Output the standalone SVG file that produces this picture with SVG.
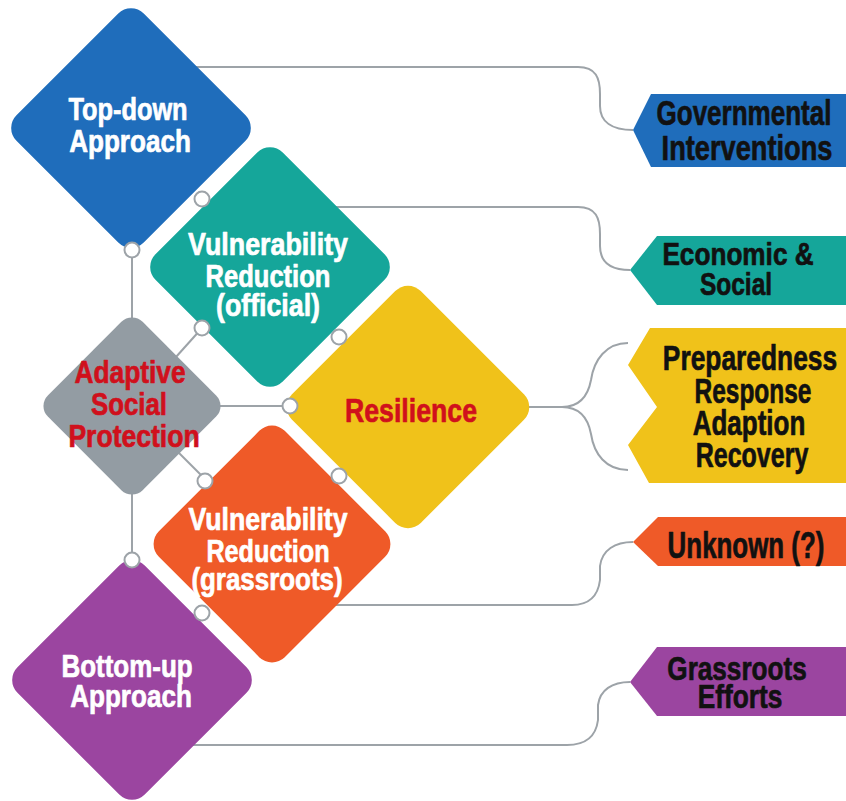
<svg xmlns="http://www.w3.org/2000/svg" width="846" height="801" viewBox="0 0 846 801">
<style>
.bg{fill:#ffffff}
.conn{fill:none;stroke:#9da3a8;stroke-width:2}
.dot{fill:#ffffff;stroke:#9da3a8;stroke-width:2}
.t{font-family:"Liberation Sans",Arial,sans-serif;font-weight:bold;text-anchor:middle;stroke-width:0.7px;stroke-linejoin:round}
.w{fill:#ffffff;stroke:#ffffff;font-size:31px}
.r{fill:#d0101c;stroke:#d0101c;font-size:31px}
.k{fill:#111111;stroke:#111111;font-size:36px}
.blue{fill:#1f6dbb}
.teal{fill:#15a69a}
.gray{fill:#939ca3}
.yellow{fill:#f0c21a}
.orange{fill:#ef5a28}
.purple{fill:#9b45a0}
</style>
<rect class="bg" x="0" y="0" width="846" height="801"/>
<g id="connectors">
<line class="conn" x1="132" y1="250" x2="132" y2="560"/>
<line class="conn" x1="132" y1="406" x2="202" y2="328"/>
<line class="conn" x1="132" y1="406" x2="290" y2="406"/>
<line class="conn" x1="132" y1="406" x2="206" y2="480"/>
<path class="conn" d="M192 67 H578 C596 67 600 78 600 94 V106 C600 122 612 130 633 130"/>
<path class="conn" d="M330 207 H578 C596 207 600 218 600 234 V246 C600 262 610 270 630 270"/>
<path class="conn" d="M528 407 H562 C580 407 588 396 591 380 C594 360 606 343 628 343"/>
<path class="conn" d="M562 407 C580 407 588 418 591 434 C594 454 606 470 628 470"/>
<path class="conn" d="M331 605 H572 C590 605 598 596 600 580 V566 C602 550 615 542 633 542"/>
<path class="conn" d="M187 745 H567 C586 745 596 736 598 720 V705 C600 690 612 682 630 682"/>
</g>
<g id="node-topdown">
<rect class="blue" x="-90" y="-90" width="180" height="180" rx="18" transform="translate(131,128) rotate(45)"/>
<text class="t w" transform="translate(128,120) scale(0.8,1)" textLength="149" lengthAdjust="spacingAndGlyphs">Top-down</text>
<text class="t w" transform="translate(130,152) scale(0.8,1)" textLength="152" lengthAdjust="spacingAndGlyphs">Approach</text>
</g>
<g id="node-vr-official">
<rect class="teal" x="-90" y="-90" width="180" height="180" rx="18" transform="translate(270,267) rotate(45)"/>
<text class="t w" transform="translate(268,255) scale(0.8,1)" textLength="200" lengthAdjust="spacingAndGlyphs">Vulnerability</text>
<text class="t w" transform="translate(268,287) scale(0.8,1)" textLength="156" lengthAdjust="spacingAndGlyphs">Reduction</text>
<text class="t w" transform="translate(268,316) scale(0.8,1)" textLength="130" lengthAdjust="spacingAndGlyphs">(official)</text>
</g>
<g id="node-asp">
<rect class="gray" x="-67" y="-67" width="134" height="134" rx="15" transform="translate(132,406) rotate(45)"/>
<text class="t r" transform="translate(130,383) scale(0.8,1)" textLength="139" lengthAdjust="spacingAndGlyphs">Adaptive</text>
<text class="t r" transform="translate(129,415) scale(0.8,1)" textLength="95" lengthAdjust="spacingAndGlyphs">Social</text>
<text class="t r" transform="translate(134,447) scale(0.8,1)" textLength="164" lengthAdjust="spacingAndGlyphs">Protection</text>
</g>
<g id="node-resilience">
<rect class="yellow" x="-91" y="-91" width="182" height="182" rx="18" transform="translate(408,407) rotate(45)"/>
<text class="t r" transform="translate(411,422) scale(0.8,1)" style="font-size:34px" textLength="165" lengthAdjust="spacingAndGlyphs">Resilience</text>
</g>
<g id="node-vr-grassroots">
<rect class="orange" x="-89" y="-89" width="178" height="178" rx="18" transform="translate(272,544) rotate(45)"/>
<text class="t w" transform="translate(268,530) scale(0.8,1)" textLength="199" lengthAdjust="spacingAndGlyphs">Vulnerability</text>
<text class="t w" transform="translate(268,562) scale(0.8,1)" textLength="154" lengthAdjust="spacingAndGlyphs">Reduction</text>
<text class="t w" transform="translate(267,590) scale(0.8,1)" textLength="189" lengthAdjust="spacingAndGlyphs">(grassroots)</text>
</g>
<g id="node-bottomup">
<rect class="purple" x="-90" y="-90" width="180" height="180" rx="18" transform="translate(132,680) rotate(45)"/>
<text class="t w" transform="translate(127,677) scale(0.8,1)" textLength="164" lengthAdjust="spacingAndGlyphs">Bottom-up</text>
<text class="t w" transform="translate(131,707) scale(0.8,1)" textLength="152" lengthAdjust="spacingAndGlyphs">Approach</text>
</g>
<g id="dots">
<circle class="dot" cx="132" cy="250" r="7.5"/>
<circle class="dot" cx="202" cy="199" r="7.5"/>
<circle class="dot" cx="202" cy="328" r="7.5"/>
<circle class="dot" cx="339" cy="337" r="7.5"/>
<circle class="dot" cx="290" cy="406" r="7.5"/>
<circle class="dot" cx="339" cy="476" r="7.5"/>
<circle class="dot" cx="205" cy="481" r="7.5"/>
<circle class="dot" cx="202" cy="613" r="7.5"/>
<circle class="dot" cx="132" cy="560" r="7.5"/>
</g>
<g id="tag-governmental">
<polygon class="blue" points="633,130 651,94 846,94 846,167 651,167"/>
<text class="t k" transform="translate(744,125) scale(0.7,1)" textLength="250" lengthAdjust="spacingAndGlyphs">Governmental</text>
<text class="t k" transform="translate(747,160) scale(0.7,1)" textLength="244" lengthAdjust="spacingAndGlyphs">Interventions</text>
</g>
<g id="tag-economic">
<polygon class="teal" points="630,270 657,236 846,236 846,305 657,305"/>
<text class="t k" transform="translate(738,265) scale(0.7,1)" style="font-size:32px" textLength="216" lengthAdjust="spacingAndGlyphs">Economic &amp;</text>
<text class="t k" transform="translate(736,295) scale(0.7,1)" style="font-size:32px" textLength="103" lengthAdjust="spacingAndGlyphs">Social</text>
</g>
<g id="tag-prr">
<polygon class="yellow" points="650,328 846,328 846,483 649,483 628,445 657,407 628,365"/>
<text class="t k" transform="translate(750,370) scale(0.7,1)" style="font-size:35px" textLength="249" lengthAdjust="spacingAndGlyphs">Preparedness</text>
<text class="t k" transform="translate(753,403) scale(0.7,1)" style="font-size:35px" textLength="167" lengthAdjust="spacingAndGlyphs">Response</text>
<text class="t k" transform="translate(749,435) scale(0.7,1)" style="font-size:35px" textLength="161" lengthAdjust="spacingAndGlyphs">Adaption</text>
<text class="t k" transform="translate(752,467) scale(0.7,1)" style="font-size:35px" textLength="161" lengthAdjust="spacingAndGlyphs">Recovery</text>
</g>
<g id="tag-unknown">
<polygon class="orange" points="633,542 658,517 846,517 846,566 658,566"/>
<text class="t k" transform="translate(746,558) scale(0.7,1)" style="font-size:37px" textLength="224" lengthAdjust="spacingAndGlyphs">Unknown (?)</text>
</g>
<g id="tag-grassroots">
<polygon class="purple" points="630,682 657,647 846,647 846,716 657,716"/>
<text class="t k" transform="translate(737,680) scale(0.7,1)" style="font-size:33px" textLength="199" lengthAdjust="spacingAndGlyphs">Grassroots</text>
<text class="t k" transform="translate(740,708) scale(0.7,1)" style="font-size:33px" textLength="121" lengthAdjust="spacingAndGlyphs">Efforts</text>
</g>
</svg>
